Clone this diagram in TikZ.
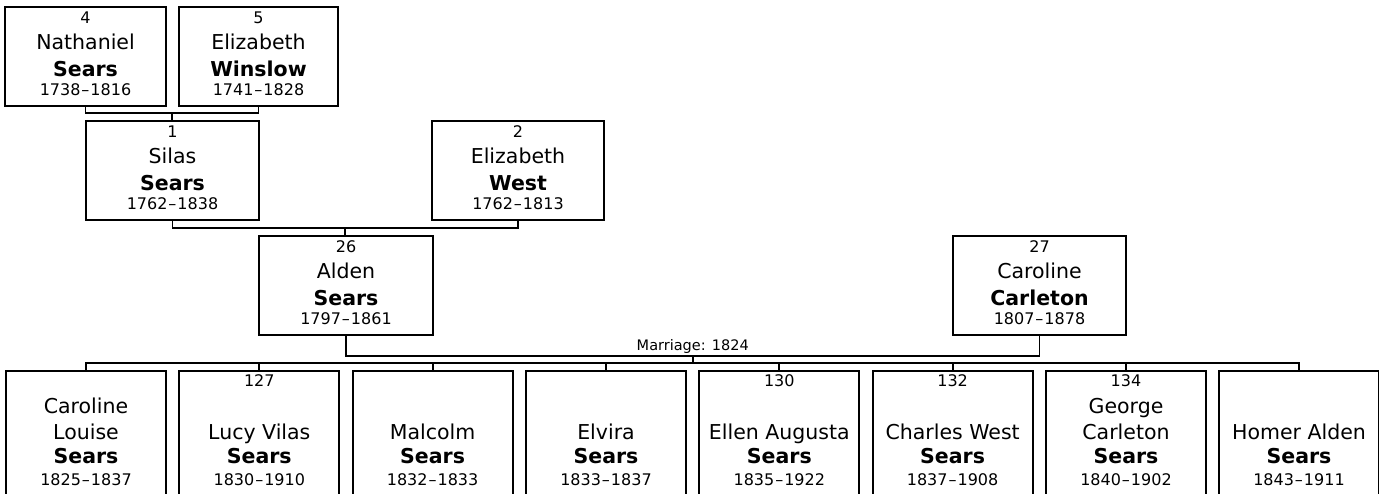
\documentclass[tikz,border=0pt]{standalone}
\usepackage{fontspec}
\setmainfont{DejaVu Sans}
\usetikzlibrary{calc}
\newcommand{\yrs}[2]{#1\kern1pt–\kern1pt#2}
\tikzset{
  box/.style={draw, line width=1.9pt, inner sep=0pt, outer sep=0pt, fill=white},
  conn/.style={draw, line width=1.9pt, line cap=rect},
  numtxt/.style={font=\fontsize{16}{18}\selectfont, anchor=base, inner sep=0pt},
  marrtxt/.style={font=\fontsize{14.5}{17}\selectfont, anchor=base, inner sep=0pt},
  nametxt/.style={font=\fontsize{20.5}{24}\selectfont, anchor=base, inner sep=0pt},
  surtxt/.style={font=\fontsize{20.5}{24}\selectfont\bfseries, anchor=base, inner sep=0pt},
}
% top-row person: id, left, top, width, number, given, surname, dates
\newcommand{\tperson}[8]{%
  \node[box, minimum width=#4pt, minimum height=99pt, anchor=north west] (#1) at (#2,#3) {};
  \node[numtxt] (#1-num) at ($(#1.north)+(0,16)$) {#5};
  \node[nametxt] (#1-given) at ($(#1.north)+(0,42)$) {#6};
  \node[surtxt] (#1-sur) at ($(#1.north)+(0,69)$) {#7};
  \node[numtxt] (#1-yrs) at ($(#1.north)+(0,88)$) {#8};
}
% child box: id, left
\newcommand{\cbox}[2]{%
  \node[box, minimum width=160pt, minimum height=150pt, anchor=north west] (#1) at (#2,371) {};
}
\begin{document}
\begin{tikzpicture}[x=1pt,y=-1pt]
\clip (0,0) rectangle (1379,493);
\fill[white] (0,0) rectangle (1379,493);

\tperson{p4}{5}{7}{161}{4}{Nathaniel}{Sears}{\yrs{1738}{1816}}
\tperson{p5}{179}{7}{159}{5}{Elizabeth}{Winslow}{\yrs{1741}{1828}}
\tperson{p1}{86}{121}{173}{1}{Silas}{Sears}{\yrs{1762}{1838}}
\tperson{p2}{432}{121}{172}{2}{Elizabeth}{West}{\yrs{1762}{1813}}
\tperson{p26}{259}{236}{174}{26}{Alden}{Sears}{\yrs{1797}{1861}}
\tperson{p27}{953}{236}{173}{27}{Caroline}{Carleton}{\yrs{1807}{1878}}

\cbox{c1}{6}
\cbox{c2}{179.3}
\cbox{c3}{352.6}
\cbox{c4}{526}
\cbox{c5}{699.3}
\cbox{c6}{872.6}
\cbox{c7}{1046}
\cbox{c8}{1219}

% child texts
\node[nametxt] (c1-g1) at ($(c1.north)+(0,42)$) {Caroline};
\node[nametxt] (c1-g2) at ($(c1.north)+(0,68)$) {Louise};
\node[numtxt] (c2-num) at ($(c2.north)+(0,15)$) {127};
\node[nametxt] (c2-g) at ($(c2.north)+(0,68)$) {Lucy Vilas};
\node[nametxt] (c3-g) at ($(c3.north)+(0,68)$) {Malcolm};
\node[nametxt] (c4-g) at ($(c4.north)+(0,68)$) {Elvira};
\node[numtxt] (c5-num) at ($(c5.north)+(0,15)$) {130};
\node[nametxt] (c5-g) at ($(c5.north)+(0,68)$) {Ellen Augusta};
\node[numtxt] (c6-num) at ($(c6.north)+(0,15)$) {132};
\node[nametxt] (c6-g) at ($(c6.north)+(0,68)$) {Charles West};
\node[numtxt] (c7-num) at ($(c7.north)+(0,15)$) {134};
\node[nametxt] (c7-g1) at ($(c7.north)+(0,42)$) {George};
\node[nametxt] (c7-g2) at ($(c7.north)+(0,68)$) {Carleton};
\node[nametxt] (c8-g) at ($(c8.north)+(0,68)$) {Homer Alden};
\foreach \c/\y in {c1/{\yrs{1825}{1837}},c2/{\yrs{1830}{1910}},c3/{\yrs{1832}{1833}},c4/{\yrs{1833}{1837}},c5/{\yrs{1835}{1922}},c6/{\yrs{1837}{1908}},c7/{\yrs{1840}{1902}},c8/{\yrs{1843}{1911}}}{
  \node[surtxt] (\c-sur) at ($(\c.north)+(0,92)$) {Sears};
  \node[numtxt] (\c-yrs) at ($(\c.north)+(0,114)$) {\y};
}

% connectors
\draw[conn] (p4.south) -- ++(0,7) -| (p5.south);
\coordinate (m45) at ($(p4.south)!0.5!(p5.south)+(0,7)$);
\draw[conn] (m45) -- (m45 |- p1.north);
\draw[conn] (p1.south) -- ++(0,8) -| (p2.south);
\coordinate (m12) at ($(p1.south)!0.5!(p2.south)+(0,8)$);
\draw[conn] (m12) -- (m12 |- p26.north);
\draw[conn] (p26.south) -- ++(0,21) -| (p27.south);
\coordinate (m2627) at ($(p26.south)!0.5!(p27.south)+(0,21)$);
\node[marrtxt] (marr) at ($(m2627)+(0,-6)$) {Marriage: 1824};
\coordinate (busl) at ($(c1.north)+(0,-8)$);
\draw[conn] (m2627) -- (m2627 |- busl);
\draw[conn] (c1.north) -- (busl) -| (c8.north);
\foreach \c in {c2,c3,c4,c5,c6,c7}{
  \draw[conn] (\c.north) -- (\c.north |- busl);
}
\end{tikzpicture}
\end{document}
